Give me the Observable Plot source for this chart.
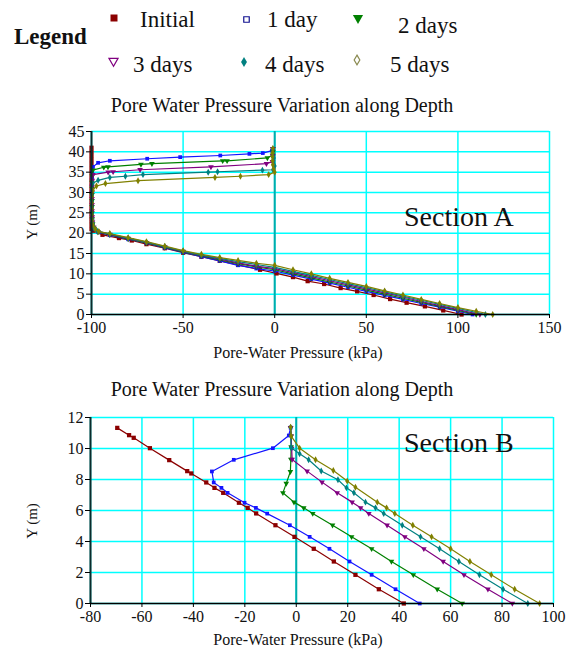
<!DOCTYPE html>
<html><head><meta charset="utf-8">
<script src="https://cdn.jsdelivr.net/npm/d3@7"></script>
<script src="https://cdn.jsdelivr.net/npm/@observablehq/plot@0.6"></script>
<style>
body{margin:0;width:570px;height:650px;position:relative;background:#fff;overflow:hidden;font-family:"Liberation Serif","DejaVu Serif",serif}
.abs{position:absolute;left:0}
svg text{font-family:"Liberation Serif","DejaVu Serif",serif !important}
</style></head><body>
<div id="chartA" class="abs" style="top:120px"></div>
<div id="chartB" class="abs" style="top:405px"></div>
<svg id="overlay" class="abs" style="top:0" width="570" height="650"></svg>
<script>
// ---- categories / legend ----
const seriesNames = ["Initial", "1 day", "2 days", "3 days", "4 days", "5 days"];
const colors = ["#8b0000", "#1414ff", "#008000", "#800080", "#008080", "#808000"];
const chartTitle = "Pore Water Pressure Variation along Depth";
const xLabel = "Pore-Water Pressure (kPa)";
const yLabel = "Y (m)";

// ---- tick labels ----
const xTicksA = [-100, -50, 0, 50, 100, 150];
const yTicksA = [0, 5, 10, 15, 20, 25, 30, 35, 40, 45];
const xTicksB = [-80, -60, -40, -20, 0, 20, 40, 60, 80, 100];
const yTicksB = [0, 2, 4, 6, 8, 10, 12];

// ---- Section A series: [pressure kPa, Y m] ----
const initialA = [[-100,41],[-100,40],[-100,39],[-100,38],[-100,37],[-100,36],[-100,35],[-100,34],[-100,33],[-100,32],[-100,31],[-100,30],[-100,29],[-100,28],[-100,27],[-100,26],[-100,25],[-100,24],[-100,23],[-100,22],[-100,21],[-99,20.6],[-94,19.6],[-85,18.8],[-78,18.2],[-70,17.3],[-60,16.3],[-50,15.2],[-40,14.2],[-30,13.2],[-20,12.2],[-8,11.0],[1,10.1],[10,9.2],[18,8.2],[27,7.5],[36,6.5],[45,5.7],[54,4.8],[63,3.8],[72,2.9],[82,2.0],[92,1.0],[102,0]];
const day1A = [[-1,40.7],[-1.5,40.3],[-6.5,39.7],[-13.8,39.5],[-29.7,39.1],[-51.6,38.7],[-69.6,38.3],[-90,37.8],[-96.4,37.3],[-99.2,36.3],[-99.6,35],[-99.7,33.5],[-99.7,32],[-99.7,30.5],[-99.7,29],[-99.7,27.5],[-99.7,26],[-99.7,24.5],[-99.5,23],[-99.2,22],[-98.3,21],[-96,20.2],[-90,19.5],[-80,18.5],[-70,17.6],[-60,16.4],[-50,15.3],[-40,14.2],[-30,13.2],[-20,12.1],[-10,11.3],[0,10.7],[10,9.7],[20,8.7],[30,7.7],[40,6.7],[50,5.7],[60,4.7],[70,3.7],[80,2.7],[90,1.8],[100,0.8],[108,0]];
const day2A = [[-1,40.8],[-1,40],[-1.2,39.2],[-4,38.5],[-26,37.8],[-28.4,37.8],[-67,37.1],[-73,36.9],[-91,36.3],[-93.3,36.2],[-99.3,35.5],[-99.6,34],[-99.7,32.5],[-99.7,31],[-99.7,29.5],[-99.7,28],[-99.7,26.5],[-99.7,25],[-99.6,23.5],[-99.4,22.3],[-98.5,21.2],[-96.5,20.3],[-90,19.6],[-80,18.6],[-70,17.6],[-60,16.5],[-50,15.4],[-40,14.4],[-30,13.4],[-20,12.5],[-10,11.7],[0,11.0],[10,10.0],[20,9.0],[30,8.0],[40,7.0],[50,6.0],[60,5.0],[70,4.0],[80,3.0],[90,2.0],[100,1.0],[110,0]];
const day3A = [[-1,40.7],[-1,39],[-1.2,37.6],[-4.5,37.1],[-34.8,36.3],[-73.5,35.6],[-88.2,35.1],[-90.9,35.0],[-99.2,34.4],[-99.6,33],[-99.7,31.5],[-99.7,30],[-99.7,28.5],[-99.7,27],[-99.7,25.5],[-99.6,24],[-99.5,22.7],[-98.8,21.5],[-97,20.5],[-90,19.7],[-80,18.7],[-70,17.7],[-60,16.6],[-50,15.5],[-40,14.5],[-30,13.6],[-20,12.7],[-10,11.9],[0,11.3],[10,10.3],[20,9.3],[30,8.3],[40,7.3],[50,6.3],[60,5.3],[70,4.3],[80,3.2],[90,2.2],[100,1.2],[112,0]];
const day4A = [[-1,40.7],[-0.5,38.5],[0,36.5],[-0.9,35.6],[-6.7,35.5],[-31.2,35.1],[-36.3,35.0],[-71.9,34.4],[-81.5,34.0],[-90,33.7],[-96.4,33.0],[-99.4,32.2],[-99.7,30.8],[-99.7,29.3],[-99.7,27.8],[-99.7,26.3],[-99.7,24.8],[-99.6,23.4],[-99.3,22.2],[-98.5,21.2],[-96.8,20.5],[-90,19.8],[-80,18.8],[-70,17.8],[-60,16.7],[-50,15.6],[-40,14.6],[-30,13.8],[-20,13.0],[-10,12.3],[0,11.6],[10,10.6],[20,9.6],[30,8.6],[40,7.6],[50,6.6],[60,5.6],[70,4.5],[80,3.5],[90,2.5],[100,1.5],[115,0]];
const day5A = [[-1,40.8],[-1.2,39.8],[-1.2,38.8],[-1.2,37.8],[-1,36.8],[-0.6,35.8],[0,35],[-3.3,34.4],[-18.7,34.0],[-32.6,33.7],[-74.6,32.9],[-92.4,32.2],[-97.3,31.6],[-99.3,30.5],[-99.7,29],[-99.7,27.5],[-99.7,26],[-99.7,24.5],[-99.6,23.2],[-99.2,22],[-98,21],[-96,20.4],[-90,19.9],[-80,18.9],[-70,17.9],[-60,16.8],[-50,15.7],[-40,14.8],[-30,14.0],[-20,13.3],[-10,12.6],[0,12.1],[10,11.0],[20,10.0],[30,8.9],[40,7.9],[50,6.9],[60,5.8],[70,4.8],[80,3.7],[90,2.7],[100,1.7],[110,0.8],[119,0]];

// ---- Section B series: [pressure kPa, Y m] ----
const initialB = [[-69.6,11.33],[-65,10.86],[-63.2,10.69],[-56.9,10.02],[-49.4,9.25],[-42.4,8.54],[-40.8,8.39],[-35,7.81],[-31.8,7.46],[-28.4,7.14],[-22.3,6.5],[-18.9,6.17],[-15.6,5.81],[-8.1,5.05],[-0.7,4.3],[6.8,3.53],[14.6,2.71],[23,1.85],[32.1,0.92],[41.8,0]];
const day1B = [[-2.2,11.35],[-2.9,10.84],[-9.1,10.02],[-24.3,9.27],[-32.8,8.52],[-32.1,7.81],[-29.1,7.46],[-26.7,7.14],[-20.1,6.5],[-15.7,6.17],[-11.3,5.8],[-2.5,5.05],[5.2,4.3],[12.9,3.53],[20.7,2.71],[29.3,1.85],[38.6,0.92],[48,0]];
const day2B = [[-2.2,11.35],[-2,10.8],[-2,10.1],[-2.1,9.3],[-2.3,8.5],[-3.9,7.75],[-5.2,7.14],[-0.9,6.54],[2.9,6.17],[6.4,5.8],[14.1,5.05],[21.5,4.3],[29.3,3.53],[37,2.71],[45.5,1.85],[54.8,0.92],[64.5,0]];
const day3B = [[-2.2,11.35],[-2,10.8],[-1.8,10.0],[-1.6,9.29],[4.2,8.54],[10,7.83],[15.9,7.14],[21.7,6.54],[25,6.17],[28.2,5.8],[35.3,5.05],[42.2,4.3],[49.6,3.53],[57.1,2.71],[65.2,1.85],[74.5,0.92],[84,0]];
const day4B = [[-2.2,11.35],[-2.1,10.8],[-2,10.05],[1.3,9.66],[4.8,9.27],[9.7,8.55],[16.2,7.98],[19.5,7.46],[22.4,7.14],[26.9,6.54],[30.8,6.17],[34,5.8],[41.2,5.05],[48.3,4.3],[55.7,3.53],[63.2,2.71],[71.2,1.85],[80.4,0.92],[90,0]];
const day5B = [[-2.2,11.38],[-2,10.8],[1.3,10.02],[7.5,9.27],[14.4,8.58],[19.8,7.9],[23,7.5],[31.5,6.54],[35.1,6.17],[38.3,5.8],[45.3,5.05],[52.6,4.3],[60,3.53],[67.5,2.71],[75.8,1.85],[84.9,0.92],[94.6,0]];

const seriesA = [initialA, day1A, day2A, day3A, day4A, day5A];
const seriesB = [initialB, day1B, day2B, day3B, day4B, day5B];
const plotSymbols = ["square", "square", "triangle", "triangle", "diamond", "diamond"];
const plotRotate = [0, 0, 180, 180, 0, 0];

const GRID = "#00ffff", ZERO = "#00acac", AXIS = "#0b2b2b";
const SERIF = "'Liberation Serif', 'DejaVu Serif', serif";
const fmt = d => String(d);

function seriesMarks(list) {
  const marks = [];
  list.forEach((data, i) => {
    marks.push(Plot.line(data, {x: d => d[0], y: d => d[1], stroke: colors[i], strokeWidth: 1.2}));
    marks.push(Plot.dot(data, {x: d => d[0], y: d => d[1], symbol: plotSymbols[i], rotate: plotRotate[i], fill: colors[i], r: i === 0 ? 2.4 : 2.1}));
  });
  return marks;
}

function makeChart(opts) {
  return Plot.plot({
    width: 570, height: opts.height,
    marginLeft: opts.ml, marginRight: opts.mr, marginTop: opts.mt, marginBottom: opts.mb,
    style: {fontFamily: SERIF, fontSize: "16px", background: "transparent", color: "#111"},
    x: {domain: opts.xd},
    y: {domain: opts.yd},
    marks: [
      Plot.ruleX(opts.xt, {stroke: GRID, strokeWidth: 1.5}),
      Plot.ruleY(opts.yt, {stroke: GRID, strokeWidth: 1.5}),
      Plot.ruleX([0], {stroke: ZERO, strokeWidth: 2}),
      ...seriesMarks(opts.series),
      Plot.ruleX([opts.xd[0]], {stroke: AXIS, strokeWidth: 2}),
      Plot.ruleY([0], {stroke: "#000", strokeWidth: 1.5}),
      Plot.axisX({ticks: opts.xt, tickFormat: fmt, tickSize: 4, tickPadding: 3, label: null, stroke: "#000", fill: "#111", fontFamily: SERIF}),
      Plot.axisY({ticks: opts.yt, tickFormat: fmt, tickSize: 5, tickPadding: 2, label: null, stroke: "#000", fill: "#111", fontFamily: SERIF})
    ]
  });
}

document.getElementById("chartA").append(makeChart({
  height: 240, ml: 91, mr: 21, mt: 11, mb: 46,
  xd: [-100, 150], yd: [0, 45], xt: xTicksA, yt: yTicksA, series: seriesA
}));
document.getElementById("chartB").append(makeChart({
  height: 225, ml: 90, mr: 17, mt: 12, mb: 27,
  xd: [-80, 100], yd: [0, 12], xt: xTicksB, yt: yTicksB, series: seriesB
}));

// ---- overlay: legend, titles, labels ----
const svg = d3.select("#overlay").attr("font-family", SERIF);
svg.append("text").attr("x", 14).attr("y", 44).attr("font-size", 23).attr("font-weight", "bold").attr("fill", "#111").text("Legend");

const legendPos = [
  {mx: 114, my: 18, tx: 140, ty: 27},
  {mx: 246.5, my: 19.5, tx: 267, ty: 27},
  {mx: 358, my: 18, tx: 398, ty: 33},
  {mx: 113.5, my: 61, tx: 133, ty: 72},
  {mx: 244, my: 62, tx: 265, ty: 72},
  {mx: 357, my: 60, tx: 390, ty: 72}
];
const legendShape = [
  {type: d3.symbolSquare, size: 49, filled: true, rot: 0},
  {type: d3.symbolSquare, size: 30, filled: false, rot: 0},
  {type: d3.symbolTriangle, size: 45, filled: true, rot: 180},
  {type: d3.symbolTriangle, size: 36, filled: false, rot: 180},
  {type: d3.symbolDiamond, size: 30, filled: true, rot: 0},
  {type: d3.symbolDiamond, size: 28, filled: false, rot: 0}
];
const legendStroke = ["#8b0000", "#101090", "#008000", "#800080", "#008080", "#8a8a50"];
seriesNames.forEach((name, i) => {
  const p = legendPos[i], s = legendShape[i];
  svg.append("path").attr("d", d3.symbol(s.type, s.size)())
    .attr("transform", `translate(${p.mx},${p.my}) rotate(${s.rot})`)
    .attr("fill", s.filled ? colors[i] : "#fff")
    .attr("stroke", legendStroke[i]).attr("stroke-width", s.filled ? 0 : 1.2);
  svg.append("text").attr("x", p.tx).attr("y", p.ty).attr("font-size", 23).attr("fill", "#111").text(name);
});

function label(x, y, size, txt, anchor, rot) {
  const t = svg.append("text").attr("font-size", size).attr("fill", "#111").attr("text-anchor", anchor || "start").text(txt);
  if (rot) t.attr("transform", `translate(${x},${y}) rotate(${rot})`);
  else t.attr("x", x).attr("y", y);
}
label(282, 112, 20, chartTitle, "middle");
label(282, 396, 20, chartTitle, "middle");
label(298, 358, 16, xLabel, "middle");
label(298, 645, 16, xLabel, "middle");
label(37, 222, 15, yLabel, "middle", -90);
label(37, 521, 15, yLabel, "middle", -90);
label(404, 226, 28, "Section A");
label(404, 452, 28, "Section B");
</script>
</body></html>
